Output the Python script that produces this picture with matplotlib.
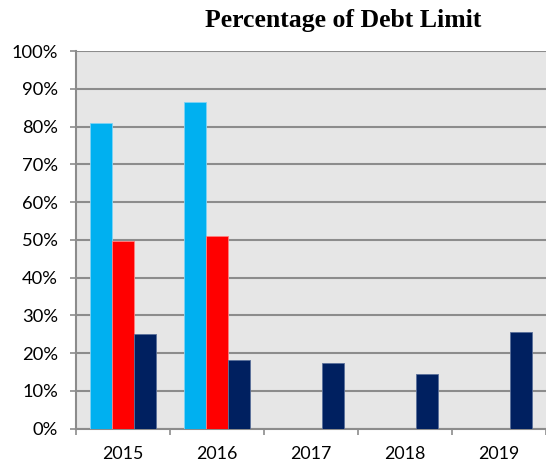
import numpy as np
import matplotlib.pyplot as plt
from matplotlib.ticker import PercentFormatter

# Dados
anos = ["2015", "2016", "2017", "2018", "2019"]
serie_azul = [81.0, 86.6, np.nan, np.nan, np.nan]
serie_vermelha = [49.8, 51.1, np.nan, np.nan, np.nan]
serie_marinho = [25.2, 18.2, 17.3, 14.4, 25.7]

series = [serie_azul, serie_vermelha, serie_marinho]
cores = ["#00B0F0", "#FF0000", "#002060"]
bordas = ["#7fd3f5", "#ff8080", "#5a6f9a"]

fig = plt.figure(figsize=(5.46, 4.66), dpi=100)
ax = fig.add_axes([76 / 546, 1 - 428.7 / 466, 470 / 546, 377.7 / 466])
ax.set_facecolor("#E6E6E6")

x = np.arange(len(anos))
largura = 0.233
for i, (valores, cor, borda) in enumerate(zip(series, cores, bordas)):
    ax.bar(x + (i - 1) * largura, valores, largura, color=cor,
           edgecolor=borda, linewidth=0.6, zorder=3)

# Eixos e grade
ax.set_ylim(0, 100)
ax.set_xlim(-0.5, 4.47)
ax.set_yticks(np.arange(0, 101, 10))
ax.yaxis.set_major_formatter(PercentFormatter(decimals=0))
ax.yaxis.grid(True, color="#8c8c8c", linewidth=1.5, zorder=1)
ax.set_axisbelow(True)

ax.set_xticks(x)
ax.set_xticklabels(anos)
ax.set_xticks(np.arange(-0.5, 5, 1), minor=True)
ax.tick_params(axis="x", which="major", length=0, pad=12.5, labelsize=12.8)
ax.tick_params(axis="x", which="minor", length=4, width=1.2, color="#8c8c8c")
ax.tick_params(axis="y", length=4.5, width=1.2, color="#8c8c8c", labelsize=13.2, pad=8.5)

for lado in ["top", "right"]:
    ax.spines[lado].set_visible(False)
for lado in ["left", "bottom"]:
    ax.spines[lado].set_color("#8c8c8c")
    ax.spines[lado].set_linewidth(1.5)

for rotulo in ax.get_xticklabels() + ax.get_yticklabels():
    rotulo.set_fontfamily("Lato")

fig.text(343 / 546, 1 - 27.3 / 466, "Percentage of Debt Limit", ha="center", va="baseline",
         fontsize=18.5, fontweight="bold", fontfamily="Liberation Serif")

plt.savefig("out.png", dpi=100)
